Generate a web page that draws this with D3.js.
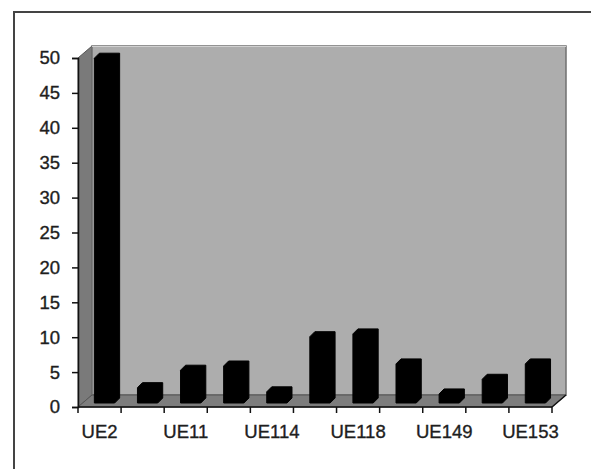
<!DOCTYPE html>
<html><head><meta charset="utf-8">
<script src="https://cdn.jsdelivr.net/npm/d3@7"></script>
<style>html,body{margin:0;padding:0;background:#fff;}svg{display:block;}</style>
</head><body>
<script>
const categories = ["c0","c1","c2","c3","c4","c5","c6","c7","c8","c9","c10"];
const tickLabels = ["UE2","","UE11","","UE114","","UE118","","UE149","","UE153"];
const values = [49.4, 2.2, 4.7, 5.3, 1.6, 9.5, 9.9, 5.6, 1.3, 3.4, 5.6];
const yTicks = [0,5,10,15,20,25,30,35,40,45,50];

const W = 591, H = 469;
const svg = d3.select("body").append("svg").attr("width", W).attr("height", H);

// outer frame
svg.append("rect").attr("x",14).attr("y",12).attr("width",W+20).attr("height",H+20)
  .attr("fill","#fff").attr("stroke","#444").attr("stroke-width",2);

const x = d3.scaleBand().domain(categories).range([78, 552]);
const y = d3.scaleLinear().domain([0,50]).range([407, 58]);
const DX = 14, DY = 12; // depth of the 3-D floor
const x0 = 78, x1 = 552, yb = y(0), yt = y(50);

// side wall
svg.append("path").attr("d", `M${x0},${yt}L${x0+DX},${yt-DY}L${x0+DX},${yb-DY}L${x0},${yb}Z`)
  .attr("fill","#7a7a7a").attr("stroke","#555").attr("stroke-width",1);
// back wall
svg.append("rect").attr("x",x0+DX).attr("y",yt-DY).attr("width",x1-x0).attr("height",yb-yt)
  .attr("fill","#adadad").attr("stroke","#707070").attr("stroke-width",1.5);
svg.append("line").attr("x1",x0+DX).attr("x2",x1+DX).attr("y1",yt-DY+0.5).attr("y2",yt-DY+0.5)
  .attr("stroke","#d0d0d0").attr("stroke-width",1);
// floor
svg.append("path").attr("d", `M${x0},${yb}L${x0+DX},${yb-DY}L${x1+DX},${yb-DY}L${x1},${yb}Z`)
  .attr("fill","#7d7d7d").attr("stroke","#555").attr("stroke-width",1);
svg.append("line").attr("x1",x1).attr("y1",yb).attr("x2",x1+DX).attr("y2",yb-DY)
  .attr("stroke","#111").attr("stroke-width",1.5);

// bars
const bw = x.bandwidth();
const d = 5, baseY = yb - 4;
svg.append("g").selectAll("path").data(values).join("path")
  .attr("d", (v,i) => {
    const bx0 = x(categories[i]) + bw*0.38;
    const bx1 = bx0 + bw*0.47;
    const top = baseY - (yb - y(v));
    return `M${bx0},${baseY}L${bx0},${top}L${bx0+d},${top-d}L${bx1+d},${top-d}L${bx1+d},${baseY-d}L${bx1},${baseY}Z`;
  })
  .attr("fill","#000").attr("stroke","#000").attr("stroke-width",1).attr("stroke-linejoin","round");

// y axis
const yAxis = svg.append("g").attr("transform",`translate(${x0},0)`)
  .call(d3.axisLeft(y).tickValues(yTicks).tickSize(6).tickPadding(12));
yAxis.select(".domain").attr("stroke","#111").attr("stroke-width",1.5);
yAxis.selectAll(".tick line").attr("stroke","#111").attr("stroke-width",1.5);
yAxis.selectAll("text").attr("font-family","'Liberation Sans', Arial, sans-serif")
  .attr("font-size",18.5).attr("fill","#1e1e1e").attr("stroke","#1e1e1e").attr("stroke-width",0.35);

// x axis (ticks at band boundaries)
const bounds = categories.map(c => x(c)).concat([x1]);
svg.append("line").attr("x1",x0).attr("x2",x1).attr("y1",yb).attr("y2",yb)
  .attr("stroke","#111").attr("stroke-width",1.5);
svg.append("g").selectAll("line").data(bounds).join("line")
  .attr("x1",b=>b).attr("x2",b=>b).attr("y1",yb).attr("y2",yb+6)
  .attr("stroke","#111").attr("stroke-width",1.5);
svg.append("g").selectAll("text").data(categories).join("text")
  .attr("x", c => x(c) + bw/2).attr("y", 438)
  .attr("text-anchor","middle")
  .attr("font-family","'Liberation Sans', Arial, sans-serif").attr("font-size",18.5)
  .attr("fill","#1e1e1e").attr("stroke","#1e1e1e").attr("stroke-width",0.35)
  .text((c,i) => tickLabels[i]);
</script>
</body></html>
